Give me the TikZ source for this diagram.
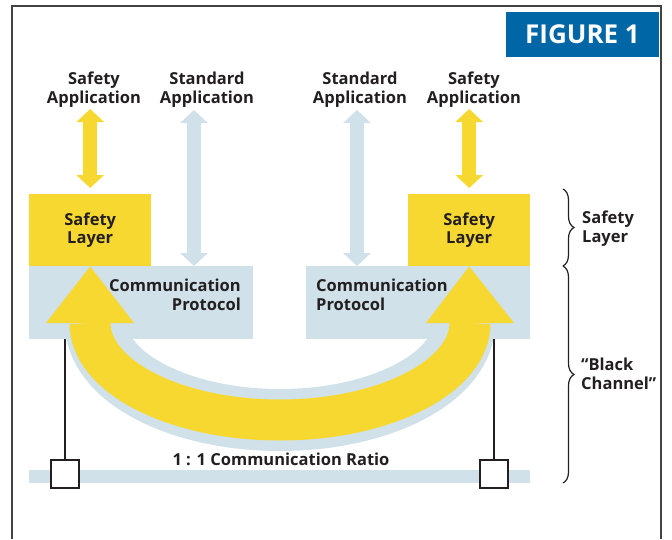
\documentclass[tikz,border=0pt]{standalone}
\usepackage{fontspec}
\setmainfont{Open Sans}
\usetikzlibrary{arrows.meta,decorations.pathreplacing}
\definecolor{safeyellow}{RGB}{247,216,48}
\definecolor{commblue}{RGB}{208,225,233}
\definecolor{figblue}{RGB}{0,102,166}
\definecolor{ink}{RGB}{35,31,32}
\begin{document}
\begin{tikzpicture}[x=1pt,y=-1pt,
  font=\bfseries\fontsize{16.5}{18.8}\selectfont, text=ink,
  lbl/.style={align=center, inner sep=0pt},
  layerbox/.style={fill=safeyellow, minimum width=122pt, minimum height=72pt, inner sep=0pt, anchor=north west, align=center},
  protobox/.style={fill=commblue, minimum width=224pt, minimum height=73pt, inner sep=0pt, anchor=north west},
  dblarrow/.style={line width=13.5pt, {Triangle[length=13pt,width=27pt]}-{Triangle[length=13pt,width=27pt]}},
  thinline/.style={draw=ink, line width=1.3pt},
  portbox/.style={draw=ink, fill=white, line width=1.3pt, minimum size=28pt, inner sep=0pt},
  bracket/.style={decorate, decoration={brace, amplitude=11pt}, draw=ink, line width=1.2pt}
]
\useasboundingbox (0,0) rectangle (672,539);

% outer frame, open at the bottom
\draw[draw=ink!85, line width=1.3pt] (12,539) -- (12,6) -- (661,6) -- (661,539);

% figure tag
\node[fill=figblue, minimum width=153pt, minimum height=45pt, inner sep=0pt, text=white,
      font=\bfseries\fontsize{26}{28}\selectfont] (tag) at (582.5,34.5) {FIGURE 1};

% application labels
\node[lbl] (appSL) at (94,89.5) {Safety\\Application};
\node[lbl] (appStL) at (207,89.5) {Standard\\Application};
\node[lbl] (appStR) at (360,89.5) {Standard\\Application};
\node[lbl] (appSR) at (474,89.5) {Safety\\Application};

% protocol stacks
\node[protobox] (cpL) at (29,266) {};
\node[protobox] (cpR) at (306,266) {};
\node[layerbox] (slL) at (29,194) {Safety\\Layer};
\node[layerbox] (slR) at (408,194) {Safety\\Layer};
\node[lbl, align=right, anchor=east] (cpLtxt) at (241,295) {Communication\\Protocol};
\node[lbl, align=left, anchor=west] (cpRtxt) at (316,295) {Communication\\Protocol};

% arrows between applications and the stacks
\coordinate (ySL) at (90,109);
\coordinate (ySR) at (470,109);
\coordinate (bStL) at (194,110);
\coordinate (bStR) at (357,110);
\draw[dblarrow, safeyellow] (slL.north |- ySL) -- ([yshift=6pt]slL.north);
\draw[dblarrow, safeyellow] (slR.north |- ySR) -- ([yshift=6pt]slR.north);
\draw[dblarrow, commblue] (bStL) -- (bStL |- cpL.north);
\draw[dblarrow, commblue] (bStR) -- (bStR |- cpR.north);

% bus line
\fill[commblue] (29,470) rectangle (530,483);
\node (ratio) at (281,459) {1 : 1 Communication Ratio};

% large safety arrow with its blue halo
\coordinate (hbL) at (90,323);
\coordinate (hbR) at (470,323);
\draw[commblue, line width=62pt] (96,323) .. controls (96,376.6) and (178.4,420) .. (280,420)
      .. controls (381.6,420) and (464,376.6) .. (464,323);
\draw[safeyellow, line width=41pt] (hbL) .. controls (90,376.6) and (175.1,420) .. (280,420)
      .. controls (384.9,420) and (470,376.6) .. (hbR);
\fill[safeyellow] (slL.south) -- (134,323) -- (46,323) -- cycle;
\fill[safeyellow] (slR.south) -- (514,323) -- (426,323) -- cycle;

% device connections to the bus
\node[portbox] (portL) at (65,474) {};
\node[portbox] (portR) at (494,474) {};
\draw[thinline] (portL.north |- cpL.south) -- (portL.north);
\draw[thinline] (portR.north |- cpR.south) -- (portR.north);

% braces and their labels
\draw[bracket] (563,189) -- (563,266);
\draw[bracket] (563,266) -- (563,483);
\node[lbl, align=left, anchor=west] (braceS) at (582,229) {Safety\\Layer};
\node[lbl, align=left, anchor=west] (braceB) at (581,373.5) {“Black\\Channel”};
\end{tikzpicture}
\end{document}
